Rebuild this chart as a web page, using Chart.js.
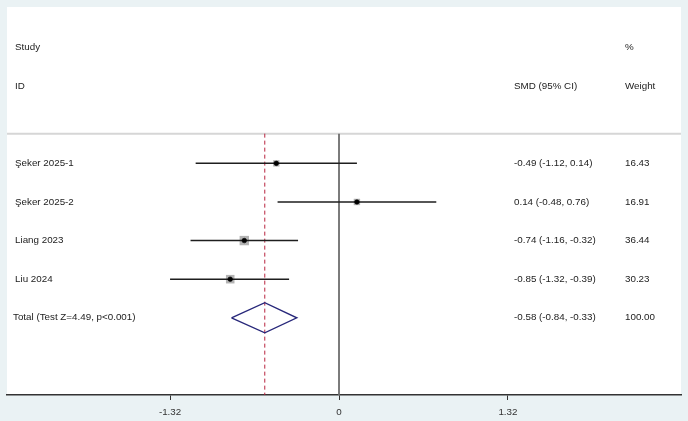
<!DOCTYPE html>
<html>
<head>
<meta charset="utf-8">
<script src="https://cdn.jsdelivr.net/npm/chart.js@4/dist/chart.umd.min.js"></script>
<style>
  html, body { margin: 0; padding: 0; background: #eaf2f4; }
  canvas { display: block; }
</style>
</head>
<body>
<canvas id="c" width="688" height="421"></canvas>
<script>
// ---- data ----
const studies = ['Şeker 2025-1', 'Şeker 2025-2', 'Liang 2023', 'Liu 2024'];
const smd = [-0.49, 0.14, -0.74, -0.85];
const ciLow = [-1.12, -0.48, -1.16, -1.32];
const ciHigh = [0.14, 0.76, -0.32, -0.39];
const weights = [16.43, 16.91, 36.44, 30.23];
const totalLabel = ['Total (Test Z=4.49, p<0.001)'];
const totalSmd = [-0.58];
const totalLow = [-0.84];
const totalHigh = [-0.33];
const totalWeight = [100.00];
const xTicks = [-1.32, 0, 1.32];
const headerTop = ['Study', '', '%'];
const headerBottom = ['ID', 'SMD (95% CI)', 'Weight'];

// ---- styling / layout constants ----
const FONT_FAMILY = '"Liberation Sans", Arial, sans-serif';
const FONT_SIZE = 9.8;
const TEXT_COLOR = '#222';
const SEP_ROW = -0.77;
const Y_MIN = -4.05, Y_MAX = 6;
const X_MIN = -2.594, X_MAX = 2.672;
const DIAMOND_HALF = 0.39;
const totalRow = studies.length;

const fmt = v => v.toFixed(2);

const datasets = [];
// black centre dots
datasets.push({
  type: 'scatter', order: 0,
  data: smd.map((v, i) => ({x: v, y: i})),
  pointStyle: 'circle', pointRadius: 2.3, pointBackgroundColor: '#000', pointBorderColor: '#000', pointBorderWidth: 0.6
});
// CI lines
studies.forEach((s, i) => {
  datasets.push({
    type: 'line', order: 1,
    data: [{x: ciLow[i], y: i}, {x: ciHigh[i], y: i}],
    borderColor: '#1e1e1e', borderWidth: 1.5, pointRadius: 0, fill: false
  });
});
// weight squares
datasets.push({
  type: 'scatter', order: 2,
  data: smd.map((v, i) => ({x: v, y: i})),
  pointStyle: 'rect',
  pointRadius: ctx => 1.1 * Math.sqrt(weights[ctx.dataIndex]),
  pointBackgroundColor: '#b3b3b3', pointBorderWidth: 0
});
// pooled diamond
datasets.push({
  type: 'line', order: 3,
  data: [
    {x: totalLow[0], y: totalRow},
    {x: totalSmd[0], y: totalRow - DIAMOND_HALF},
    {x: totalHigh[0], y: totalRow},
    {x: totalSmd[0], y: totalRow + DIAMOND_HALF},
    {x: totalLow[0], y: totalRow}
  ],
  borderColor: '#27277a', borderWidth: 1.4, pointRadius: 0, fill: false, tension: 0
});
// dashed pooled-estimate line
datasets.push({
  type: 'line', order: 4,
  data: [{x: totalSmd[0], y: SEP_ROW}, {x: totalSmd[0], y: Y_MAX}],
  borderColor: '#b8243f', borderWidth: 1, borderDash: [4, 3], pointRadius: 0, fill: false
});
// null line
datasets.push({
  type: 'line', order: 5,
  data: [{x: 0, y: SEP_ROW}, {x: 0, y: Y_MAX}],
  borderColor: '#6e6e6e', borderWidth: 1.8, pointRadius: 0, fill: false
});
// separator
datasets.push({
  type: 'line', order: 6,
  data: [{x: X_MIN, y: SEP_ROW}, {x: X_MAX, y: SEP_ROW}],
  borderColor: '#d6d6d6', borderWidth: 2, pointRadius: 0, fill: false
});

const panelPlugin = {
  id: 'panel',
  beforeDraw(chart) {
    const {ctx, chartArea: a} = chart;
    ctx.save();
    ctx.fillStyle = '#eaf2f4';
    ctx.fillRect(0, 0, chart.width, chart.height);
    ctx.fillStyle = '#ffffff';
    ctx.fillRect(a.left, a.top, a.right - a.left, a.bottom - a.top);
    ctx.restore();
  }
};

const textPlugin = {
  id: 'texts',
  afterDatasetsDraw(chart) {
    const {ctx} = chart;
    const ys = chart.scales.y;
    const colX = [15, 514, 625];
    ctx.save();
    ctx.font = `${FONT_SIZE}px ${FONT_FAMILY}`;
    ctx.fillStyle = TEXT_COLOR;
    ctx.textAlign = 'left';
    ctx.textBaseline = 'middle';
    headerTop.forEach((t, k) => { if (t) ctx.fillText(t, colX[k], ys.getPixelForValue(-3)); });
    headerBottom.forEach((t, k) => ctx.fillText(t, colX[k], ys.getPixelForValue(-2)));
    studies.forEach((s, i) => {
      const py = ys.getPixelForValue(i);
      ctx.fillText(s, colX[0], py);
      ctx.fillText(`${fmt(smd[i])} (${fmt(ciLow[i])}, ${fmt(ciHigh[i])})`, colX[1], py);
      ctx.fillText(fmt(weights[i]), colX[2], py);
    });
    const pt = ys.getPixelForValue(totalRow);
    ctx.fillText(totalLabel[0], 13, pt);
    ctx.fillText(`${fmt(totalSmd[0])} (${fmt(totalLow[0])}, ${fmt(totalHigh[0])})`, colX[1], pt);
    ctx.fillText(fmt(totalWeight[0]), colX[2], pt);
    ctx.restore();
  }
};

new Chart(document.getElementById('c'), {
  type: 'scatter',
  data: { datasets },
  options: {
    responsive: false,
    animation: false,
    layout: { padding: { left: 7, right: 7, top: 7, bottom: 0 } },
    plugins: { legend: { display: false }, tooltip: { enabled: false } },
    scales: {
      x: {
        type: 'linear', min: X_MIN, max: X_MAX,
        afterBuildTicks: s => { s.ticks = xTicks.map(v => ({value: v})); },
        afterFit: s => { s.height = 26; },
        ticks: {
          callback: v => (v === 0 ? '0' : v.toFixed(2)),
          font: { family: FONT_FAMILY, size: FONT_SIZE },
          color: '#333', padding: 6, maxRotation: 0, autoSkip: false
        },
        grid: { drawOnChartArea: false, drawTicks: true, tickLength: 5, color: '#333', lineWidth: 1 },
        border: { display: true, color: '#333', width: 1.5 }
      },
      y: {
        type: 'linear', reverse: true, min: Y_MIN, max: Y_MAX, display: false
      }
    }
  },
  plugins: [panelPlugin, textPlugin]
});
</script>
</body>
</html>
